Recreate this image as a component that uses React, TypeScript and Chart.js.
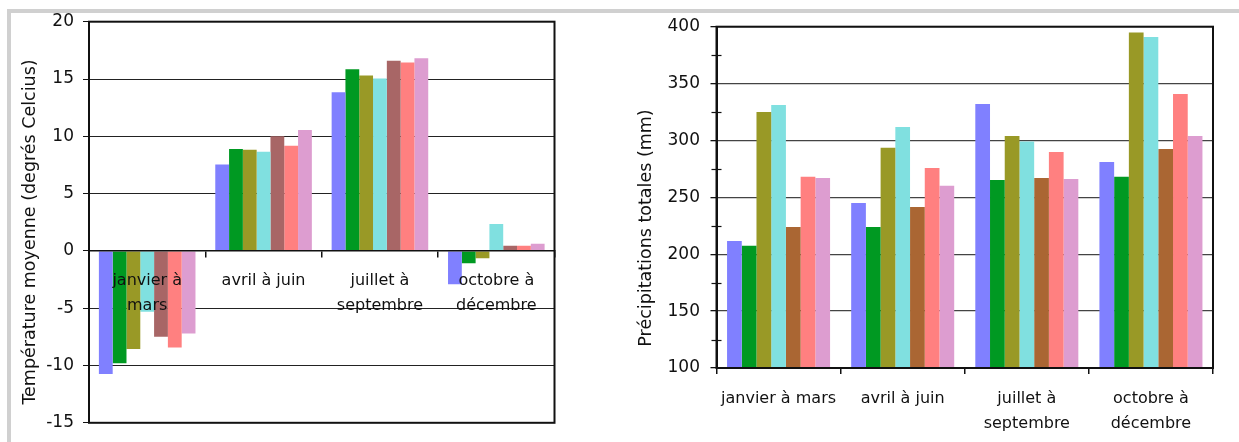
import React, { useEffect, useRef } from "react";
import { Chart, registerables } from "chart.js";

Chart.register(...registerables);

// ---------- data ----------
const tempCategories: (string | string[])[] = [
  ["janvier à", "mars"],
  "avril à juin",
  ["juillet à", "septembre"],
  ["octobre à", "décembre"],
];
const precipCategories: (string | string[])[] = [
  "janvier à mars",
  "avril à juin",
  ["juillet à", "septembre"],
  ["octobre à", "décembre"],
];

const tempSerie1 = [-10.75, 7.55, 13.85, -2.9];
const tempSerie2 = [-9.8, 8.9, 15.85, -1.08];
const tempSerie3 = [-8.57, 8.83, 15.3, -0.65];
const tempSerie4 = [-5.3, 8.65, 15.05, 2.35];
const tempSerie5 = [-7.5, 10.0, 16.6, 0.45];
const tempSerie6 = [-8.43, 9.17, 16.45, 0.45];
const tempSerie7 = [-7.2, 10.55, 16.8, 0.63];

const precipSerie1 = [211.7, 245.1, 332.1, 281.1];
const precipSerie2 = [207.4, 224.0, 265.3, 268.0];
const precipSerie3 = [325.1, 293.7, 304.0, 394.9];
const precipSerie4 = [331.2, 311.9, 299.0, 391.0];
const precipSerie5 = [224.0, 241.6, 267.1, 292.6];
const precipSerie6 = [268.0, 275.9, 289.9, 340.9];
const precipSerie7 = [267.1, 260.1, 266.2, 304.0];

const tempTitle = "Température moyenne (degrés Celcius)";
const precipTitle = "Précipitations totales (mm)";

const tempColors = ["#8080FF", "#009922", "#999926", "#80E0E0", "#A86666", "#FF8080", "#DD9DD0"];
const precipColors = ["#8080FF", "#009922", "#999926", "#80E0E0", "#AA6633", "#FF8080", "#DD9DD0"];

// ---------- styles ----------
const FONT = "'DejaVu Sans', 'Noto Sans', sans-serif";
const TEXT = "#111";

const framePlugin = {
  id: "frame",
  afterDraw(chart: any, _args: any, opts: any) {
    const { ctx, chartArea: a } = chart;
    ctx.save();
    // minor crossing ticks
    if (opts.minorEvery) {
      const ys = chart.scales.y;
      ctx.strokeStyle = TEXT;
      ctx.lineWidth = 1.2;
      ys.ticks.forEach((t: any) => {
        if (t.value % opts.minorEvery !== 0) {
          const p = Math.round(ys.getPixelForValue(t.value)) + 0.5;
          ctx.beginPath();
          ctx.moveTo(a.left - 5, p);
          ctx.lineTo(a.left + 5, p);
          ctx.stroke();
        }
      });
    }
    ctx.strokeStyle = TEXT;
    ctx.lineWidth = 2;
    ctx.strokeRect(a.left, a.top, a.right - a.left, a.bottom - a.top);
    if (opts.title) {
      ctx.translate(opts.titleX, opts.titleY);
      ctx.rotate(-Math.PI / 2);
      ctx.font = `17.5px ${FONT}`;
      ctx.fillStyle = TEXT;
      ctx.textAlign = "center";
      ctx.textBaseline = "middle";
      ctx.fillText(opts.title, 0, 0);
    }
    ctx.restore();
  },
};

function makeDatasets(series: number[][], colors: string[]) {
  return series.map((data, i) => ({
    label: `S${i + 1}`,
    data,
    backgroundColor: colors[i],
    borderWidth: 0,
    barPercentage: 1,
    categoryPercentage: 0.83,
  }));
}

function TempChart() {
  const ref = useRef<HTMLCanvasElement>(null);
  useEffect(() => {
    const chart = new Chart(ref.current!, {
      type: "bar",
      data: {
        labels: tempCategories as any,
        datasets: makeDatasets(
          [tempSerie1, tempSerie2, tempSerie3, tempSerie4, tempSerie5, tempSerie6, tempSerie7],
          tempColors
        ),
      },
      plugins: [framePlugin],
      options: {
        animation: false,
        responsive: false,
        maintainAspectRatio: false,
        layout: { padding: { left: 0, top: 21.7, right: 55.5, bottom: 15.3 } },
        plugins: {
          legend: { display: false },
          tooltip: { enabled: false },
          frame: { title: tempTitle, titleX: 30.5, titleY: 232 },
        } as any,
        scales: {
          x: {
            position: { y: 0 } as any,
            grid: {
              offset: true,
              drawOnChartArea: false,
              drawTicks: true,
              tickLength: 6,
              color: TEXT,
              lineWidth: 1.5,
              z: 1,
            },
            border: { color: TEXT, width: 1.5, z: 1 },
            ticks: {
              font: { family: FONT, size: 16, lineHeight: 25 / 16 },
              color: TEXT,
              padding: 11.4,
              maxRotation: 0,
              autoSkip: false,
              z: 2,
            },
          },
          y: {
            min: -15,
            max: 20,
            ticks: {
              stepSize: 5,
              font: { family: FONT, size: 17 },
              color: TEXT,
              padding: 9,
            },
            grid: { color: "#222", lineWidth: 1, tickLength: 6, tickColor: TEXT },
            border: { color: TEXT, width: 2 },
            afterFit: (s: any) => {
              s.width = 89;
            },
          },
        },
      },
    });
    return () => chart.destroy();
  }, []);
  return (
    <canvas
      ref={ref}
      width={610}
      height={442}
      style={{ position: "absolute", left: 0, top: 0, width: 610, height: 442 }}
    />
  );
}

function PrecipChart() {
  const ref = useRef<HTMLCanvasElement>(null);
  useEffect(() => {
    const chart = new Chart(ref.current!, {
      type: "bar",
      data: {
        labels: precipCategories as any,
        datasets: makeDatasets(
          [precipSerie1, precipSerie2, precipSerie3, precipSerie4, precipSerie5, precipSerie6, precipSerie7],
          precipColors
        ),
      },
      plugins: [framePlugin],
      options: {
        animation: false,
        responsive: false,
        maintainAspectRatio: false,
        layout: { padding: { left: 0, top: 26.7, right: 26, bottom: 0 } },
        plugins: {
          legend: { display: false },
          tooltip: { enabled: false },
          frame: { title: precipTitle, titleX: 36, titleY: 228, minorEvery: 50 },
        } as any,
        scales: {
          x: {
            grid: {
              offset: true,
              drawOnChartArea: false,
              drawTicks: true,
              tickLength: 6,
              color: TEXT,
              lineWidth: 1.5,
            },
            border: { color: TEXT, width: 2 },
            ticks: {
              font: { family: FONT, size: 16, lineHeight: 25 / 16 },
              color: TEXT,
              padding: 12.5,
              maxRotation: 0,
              autoSkip: false,
            },
            afterFit: (s: any) => {
              s.height = 74;
            },
          },
          y: {
            min: 100,
            max: 400,
            ticks: {
              stepSize: 25,
              font: { family: FONT, size: 17 },
              color: TEXT,
              padding: 10.5,
              callback: (v: any) => (Number(v) % 50 === 0 ? String(v) : ""),
            },
            grid: {
              color: (c: any) => (c.tick && c.tick.value % 50 === 0 ? "#444" : "transparent"),
              tickColor: (c: any) => (c.tick && c.tick.value % 50 === 0 ? TEXT : "transparent"),
              lineWidth: 1.3,
              tickLength: 6,
            },
            border: { color: TEXT, width: 2 },
            afterFit: (s: any) => {
              s.width = 106.5;
            },
          },
        },
      },
    });
    return () => chart.destroy();
  }, []);
  return (
    <canvas
      ref={ref}
      width={629}
      height={442}
      style={{ position: "absolute", left: 610, top: 0, width: 629, height: 442 }}
    />
  );
}

export default function App() {
  return (
    <div
      style={{
        position: "absolute",
        left: 0,
        top: 0,
        width: 1239,
        height: 442,
        background: "#fff",
        overflow: "hidden",
      }}
    >
      <div style={{ position: "absolute", left: 7, top: 9, width: 1232, height: 4, background: "#d0d0d0" }} />
      <div style={{ position: "absolute", left: 7, top: 9, width: 4, height: 433, background: "#d0d0d0" }} />
      <TempChart />
      <PrecipChart />
    </div>
  );
}
